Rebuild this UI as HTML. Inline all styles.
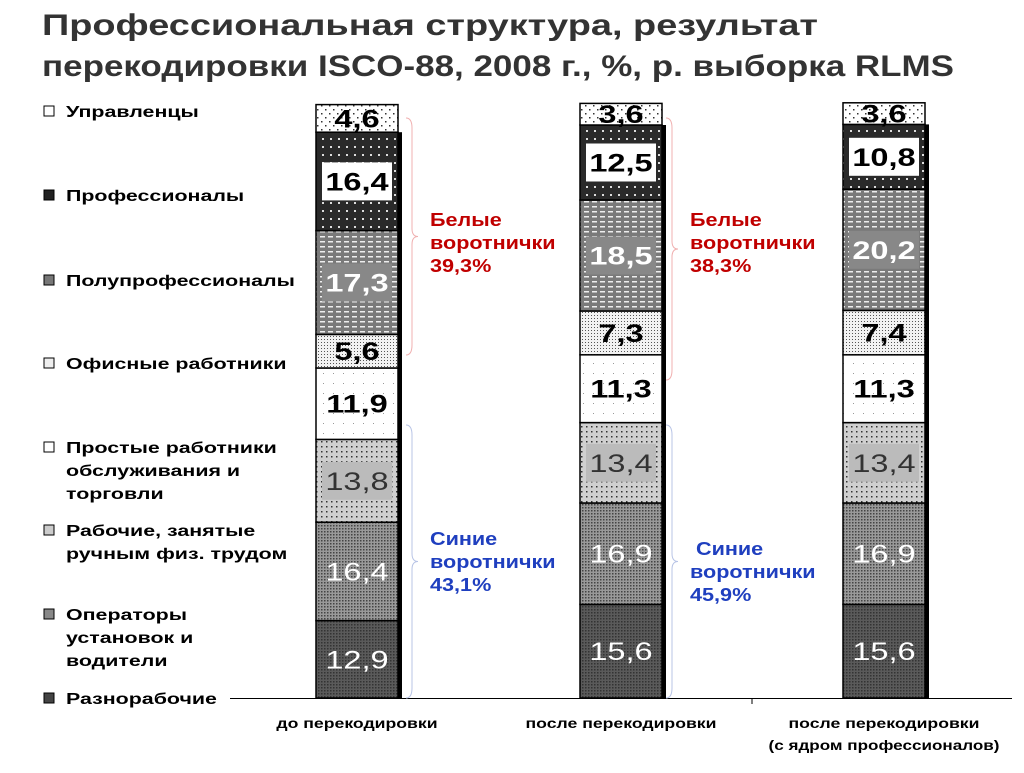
<!DOCTYPE html>
<html><head><meta charset="utf-8">
<style>
body{margin:0;background:#fff;width:1024px;height:768px;overflow:hidden;font-family:"Liberation Sans",sans-serif;}
</style></head>
<body>
<svg id="chart" width="1024" height="768" xmlns="http://www.w3.org/2000/svg" font-family="Liberation Sans, sans-serif">
<defs>
<pattern id="p0" width="8" height="8" patternUnits="userSpaceOnUse"><rect width="8" height="8" fill="#fff"/><rect x="1" y="1" width="1.5" height="1.5" fill="#333"/><rect x="5" y="5" width="1.5" height="1.5" fill="#333"/></pattern>
<pattern id="p1" width="8" height="8" patternUnits="userSpaceOnUse"><rect width="8" height="8" fill="#2a2a2a"/><rect x="2" y="2" width="2" height="2" fill="#ddd"/></pattern>
<pattern id="p2" width="8" height="5" patternUnits="userSpaceOnUse"><rect width="8" height="5" fill="#7a7a7a"/><rect x="0" y="1" width="5" height="1.5" fill="#eee"/></pattern>
<pattern id="p3" width="3" height="3" patternUnits="userSpaceOnUse"><rect width="3" height="3" fill="#f2f2f2"/><rect x="0" y="0" width="1" height="1" fill="#555"/></pattern>
<pattern id="p4" width="10" height="10" patternUnits="userSpaceOnUse"><rect width="10" height="10" fill="#fff"/><rect x="3" y="3" width="1" height="1" fill="#999"/></pattern>
<pattern id="p5" width="5" height="5" patternUnits="userSpaceOnUse"><rect width="5" height="5" fill="#d0d0d0"/><rect x="1" y="1" width="1.5" height="1.5" fill="#333"/></pattern>
<pattern id="p6" width="3" height="3" patternUnits="userSpaceOnUse"><rect width="3" height="3" fill="#999"/><rect x="0" y="0" width="1.5" height="1.5" fill="#444"/></pattern>
<pattern id="p7" width="3" height="3" patternUnits="userSpaceOnUse"><rect width="3" height="3" fill="#5a5a5a"/><rect x="0" y="0" width="1.5" height="1.5" fill="#333"/></pattern>
</defs>
<text x="42" y="35" font-size="30" font-weight="bold" fill="#333" textLength="776" lengthAdjust="spacingAndGlyphs">Профессиональная структура, результат</text>
<text x="42" y="76" font-size="30" font-weight="bold" fill="#333" textLength="912" lengthAdjust="spacingAndGlyphs">перекодировки ISCO-88, 2008 г., %, р. выборка RLMS</text>
<g id="legend"></g>
<g id="bars"></g>
<line x1="230" y1="698.5" x2="1012" y2="698.5" stroke="#000" stroke-width="1"/>
<line x1="752" y1="698" x2="752" y2="704" stroke="#000"/>
<text class="st" data-k="1.26" x="357" y="728" font-size="14" font-weight="bold" text-anchor="middle">до перекодировки</text>
<text class="st" data-k="1.26" x="621" y="728" font-size="14" font-weight="bold" text-anchor="middle">после перекодировки</text>
<text class="st" data-k="1.26" x="884" y="728" font-size="14" font-weight="bold" text-anchor="middle">после перекодировки</text>
<text class="st" data-k="1.22" x="884" y="750" font-size="14" font-weight="bold" text-anchor="middle">(с ядром профессионалов)</text>
</svg>
<script>
const categories = ["Управленцы","Профессионалы","Полупрофессионалы","Офисные работники","Простые работники обслуживания и торговли","Рабочие, занятые ручным физ. трудом","Операторы установок и водители","Разнорабочие"];
const barNames = ["до перекодировки","после перекодировки","после перекодировки (с ядром профессионалов)"];
const seriesBefore = [4.6,16.4,17.3,5.6,11.9,13.8,16.4,12.9];
const seriesAfter = [3.6,12.5,18.5,7.3,11.3,13.4,16.9,15.6];
const seriesAfterCore = [3.6,10.8,20.2,7.4,11.3,13.4,16.9,15.6];
const whiteTotals = ["39,3%","38,3%","38,3%"];
const blueTotals = ["43,1%","45,9%","45,9%"];

const NS="http://www.w3.org/2000/svg";
const svg=document.getElementById('chart');
const gBars=document.getElementById('bars');
const baseY=698, pxPerUnit=6.0, barW=82;
const barX=[316,580,843];
function yScale(v){return baseY - v*pxPerUnit;}
function mk(tag,attrs,parent){const e=document.createElementNS(NS,tag);for(const k in attrs)e.setAttribute(k,attrs[k]);(parent||svg).appendChild(e);return e;}
function stretch(t,k){const w=t.getComputedTextLength();t.setAttribute('textLength',(w*k).toFixed(1));t.setAttribute('lengthAdjust','spacingAndGlyphs');}
const labelStyle=[
 {box:null,col:"#000",w:"bold"},
 {box:"#fff",col:"#000",w:"bold"},
 {box:"#888",col:"#fff",w:"bold"},
 {box:null,col:"#000",w:"bold"},
 {box:null,col:"#000",w:"bold"},
 {box:"#bbb",col:"#333",w:"normal"},
 {box:null,col:"#fff",w:"normal"},
 {box:null,col:"#fff",w:"normal"}
];
[seriesBefore,seriesAfter,seriesAfterCore].forEach((series,bi)=>{
  const x=barX[bi];
  let total=0; series.forEach(v=>total+=v);
  const sh=mk('rect',{x:x+barW,y:yScale(total-series[0]),width:4,height:baseY-yScale(total-series[0]),fill:'#000'},gBars);
  
  
  let cum=0;
  for(let i=series.length-1;i>=0;i--){
    const v=series[i];
    const y1=yScale(cum+v), y0=yScale(cum);
    const r=mk('rect',{x:x,y:y1,width:barW,height:y0-y1,fill:'url(#p'+i+')',stroke:'#000','stroke-width':1.5},gBars);
    
    
    const cy=(y0+y1)/2, st=labelStyle[i];
    if(st.box){
      const b=mk('rect',{x:x+6,y:cy-19,width:barW-12,height:38,fill:st.box},gBars);
      
      
    }
    const t=mk('text',{x:x+barW/2,y:cy+9,'font-size':25,'font-weight':st.w,'text-anchor':'middle',fill:st.col},gBars);
    
    
    t.textContent=v.toFixed(1).replace('.',',');
    stretch(t,1.3);
    cum+=v;
  }
});
function brace(x,y1,y2,color,name){
  const m=(y1+y2)/2;
  const p=mk('path',{d:`M${x-6},${y1} Q${x},${y1} ${x},${y1+10} L${x},${m-8} Q${x},${m} ${x+6},${m} Q${x},${m} ${x},${m+8} L${x},${y2-10} Q${x},${y2} ${x-6},${y2}`,fill:'none',stroke:color,'stroke-width':1});
  
  
}
const notes=[[430,'#c00000','Белые',whiteTotals[0],226,118,355],[690,'#c00000','Белые',whiteTotals[1],226,118,380],
 [430,'#1f3fbf','Синие',blueTotals[0],545,425,698],[690,'#1f3fbf','Синие',blueTotals[1],555,425,698]];
notes.forEach((n,i)=>{
  brace(n[0]-18,n[5],n[6],i<2?'#f0b0b0':'#b8c4e6',i<2?'white-collar-brace':'blue-collar-brace');
  [n[2],'воротнички',n[3]].forEach((s,j)=>{
    const t=mk('text',{x:n[0]+(i==3&&j==0?6:0),y:n[4]+j*23,'font-size':18,'font-weight':'bold',fill:n[1]});
    
    
    t.textContent=s;
    stretch(t,1.2);
  });
});
const lg=document.getElementById('legend');
const legLines=[["Управленцы"],["Профессионалы"],["Полупрофессионалы"],["Офисные работники"],["Простые работники","обслуживания и","торговли"],["Рабочие, занятые","ручным физ. трудом"],["Операторы","установок и","водители"],["Разнорабочие"]];
const legY=[117,201,286,369,453,536,620,704];
const legFill=['#fff','#222','#777','#eee','#fff','#ccc','#888','#444'];
categories.forEach((c,i)=>{
  const y=legY[i];
  const sw=mk('rect',{x:44,y:y-11,width:10,height:10,fill:legFill[i],stroke:'#000','stroke-width':1},lg);
  
  
  legLines[i].forEach((s,j)=>{
    const t=mk('text',{x:66,y:y+j*23,'font-size':15.5,'font-weight':'bold',fill:'#000'},lg);
    
    
    t.textContent=s;
    stretch(t,1.38);
  });
});
document.querySelectorAll('text.st').forEach(t=>stretch(t,parseFloat(t.getAttribute('data-k'))));
</script>
</body></html>
